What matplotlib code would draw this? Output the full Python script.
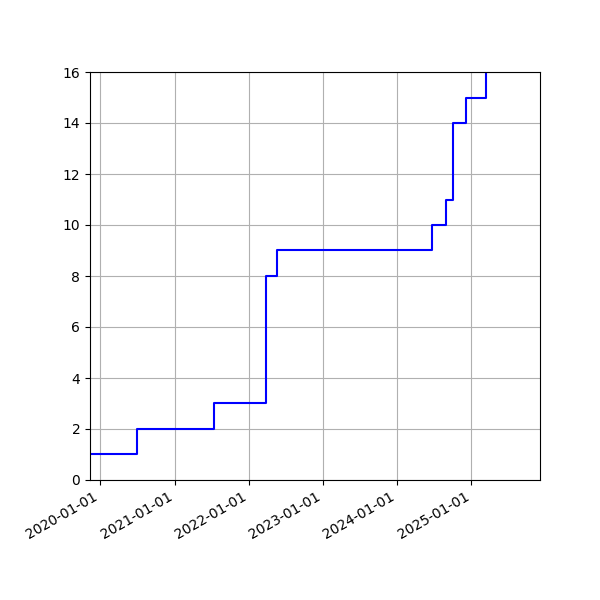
import matplotlib
matplotlib.use("Agg")
import matplotlib.pyplot as plt
import matplotlib.dates as mdates
import pandas as pd

dates = ["2019-10-01", "2020-07-01", "2021-07-12", "2022-03-29", "2022-05-19",
         "2024-06-21", "2024-08-29", "2024-10-01", "2024-12-06", "2025-03-15"]
counts = [1, 2, 3, 8, 9, 10, 11, 14, 15, 16]

dates = pd.to_datetime(dates)

fig, ax = plt.subplots(figsize=(6, 6), dpi=100)
ax.step(dates, counts, where="post", color="blue")
ax.set_xlim(pd.Timestamp("2019-11-12"), pd.Timestamp("2025-12-05"))
ax.set_ylim(0, 16)
ax.xaxis.set_major_locator(mdates.YearLocator())
ax.xaxis.set_major_formatter(mdates.DateFormatter("%Y-%m-%d"))
ax.grid(True)
fig.autofmt_xdate()
fig.subplots_adjust(left=0.15, right=0.9, top=0.88, bottom=0.2)
fig.savefig("out.png")
